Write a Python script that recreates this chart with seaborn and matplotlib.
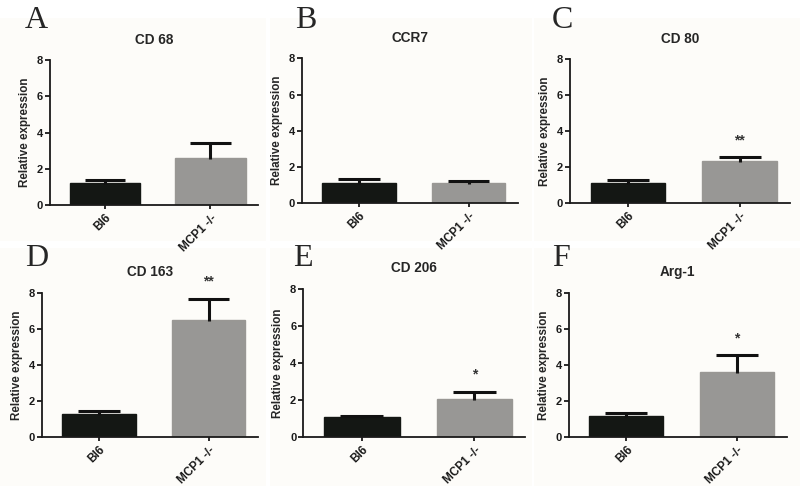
"""
Relative expression of macrophage markers, Bl6 vs MCP1 -/-.
Six small bar panels (A-F) with one-sided SEM bars and significance stars.
"""

import matplotlib.pyplot as plt
import matplotlib.patches as mpatches
import numpy as np
import pandas as pd
import seaborn as sns

# ── Data ─────────────────────────────────────────────────────────────

panel_letters = ["A", "B", "C", "D", "E", "F"]
marker_titles = ["CD 68", "CCR7", "CD 80", "CD 163", "CD 206", "Arg-1"]
groups = ["Bl6", "MCP1 -/-"]

bl6_mean = [1.20, 1.11, 1.11, 1.26, 1.05, 1.15]
bl6_sem = [0.19, 0.20, 0.19, 0.20, 0.09, 0.17]
mcp1_mean = [2.62, 1.09, 2.33, 6.48, 2.06, 3.61]
mcp1_sem = [0.81, 0.11, 0.21, 1.19, 0.37, 0.93]
stars = ["", "", "**", "**", "*", "*"]

y_ticks = [0, 2, 4, 6, 8]

# ── Theme ────────────────────────────────────────────────────────────

sns.set_theme(style="ticks")
plt.rcParams.update({
    "font.family": ["Liberation Sans", "DejaVu Sans"],
    "font.weight": "bold",
    "axes.linewidth": 1.3,
    "xtick.major.width": 1.3,
    "ytick.major.width": 1.3,
    "xtick.major.size": 3,
    "ytick.major.size": 3.5,
    "xtick.color": "#1a1a1a",
    "ytick.color": "#1a1a1a",
    "axes.edgecolor": "#1a1a1a",
})

bar_colors = ["#141714", "#999794"]
panel_bg = "#FDFCF9"

# axes boxes in figure fractions [left, bottom, width, height]
positions = [
    [0.0625, 0.578, 0.260, 0.298],
    [0.3775, 0.582, 0.270, 0.298],
    [0.7125, 0.582, 0.275, 0.296],
    [0.0525, 0.101, 0.270, 0.296],
    [0.3790, 0.101, 0.2775, 0.3045],
    [0.7110, 0.101, 0.2725, 0.296],
]
letter_xy = [
    (0.031, 0.988), (0.369, 0.988), (0.690, 0.988),
    (0.031, 0.497), (0.366, 0.497), (0.690, 0.497),
]
bg_boxes = [
    (0.000, 0.505, 0.333, 0.458), (0.338, 0.505, 0.327, 0.458),
    (0.668, 0.505, 0.332, 0.458),
    (0.000, 0.000, 0.333, 0.490), (0.338, 0.000, 0.327, 0.490),
    (0.668, 0.000, 0.332, 0.490),
]

fig = plt.figure(figsize=(8, 4.86), dpi=100)
fig.patch.set_facecolor("white")

for (x0, y0, w, h) in bg_boxes:
    fig.patches.append(mpatches.Rectangle(
        (x0, y0), w, h, transform=fig.transFigure,
        facecolor=panel_bg, edgecolor="none", zorder=-5))

bar_width = 0.67
cap_half = 0.19

for i in range(6):
    ax = fig.add_axes(positions[i])
    ax.set_facecolor("none")
    ax.set_zorder(1)

    df = pd.DataFrame({
        "group": groups,
        "mean": [bl6_mean[i], mcp1_mean[i]],
        "sem": [bl6_sem[i], mcp1_sem[i]],
    })

    sns.barplot(data=df, x="group", y="mean", hue="group",
                palette=bar_colors, width=bar_width, errorbar=None,
                legend=False, ax=ax, zorder=2)
    for patch, c in zip(ax.patches, bar_colors):
        patch.set_edgecolor(c)
        patch.set_linewidth(1)

    # one-sided SEM bars (upper only)
    xs = np.arange(len(groups))
    tops = df["mean"] + df["sem"]
    ax.vlines(xs, df["mean"] - 0.05, tops, color="#111111", lw=2.2, zorder=3)
    ax.hlines(tops, xs - cap_half, xs + cap_half, color="#111111", lw=2.2,
              zorder=3)

    if stars[i]:
        ax.text(xs[1], tops.iloc[1] + 0.95, stars[i], ha="center",
                va="center", fontsize=10, color="#333333", clip_on=False)

    ax.set_ylim(0, 8)
    ax.set_xlim(-0.52, 1.45)
    ax.set_yticks(y_ticks)
    ax.set_yticklabels([str(t) for t in y_ticks], fontsize=8,
                       fontweight="bold")
    ax.set_xticks(xs)
    ax.set_xticklabels(groups, rotation=45, ha="right",
                       rotation_mode="anchor", fontsize=8.5,
                       fontweight="bold")
    ax.tick_params(axis="y", pad=1.5)
    ax.tick_params(axis="x", pad=2)
    ax.set_xlabel("")
    ax.set_ylabel("Relative expression", fontsize=8.4, fontweight="bold",
                  labelpad=4)
    ax.set_title(marker_titles[i], fontsize=9.8, fontweight="bold", pad=12)
    sns.despine(ax=ax)

    fig.text(letter_xy[i][0], letter_xy[i][1], panel_letters[i],
             family=["Liberation Serif", "DejaVu Serif"], fontsize=23,
             fontweight="normal", va="top", ha="left", zorder=2)

fig.savefig("out.png", dpi=100, facecolor=fig.get_facecolor())
